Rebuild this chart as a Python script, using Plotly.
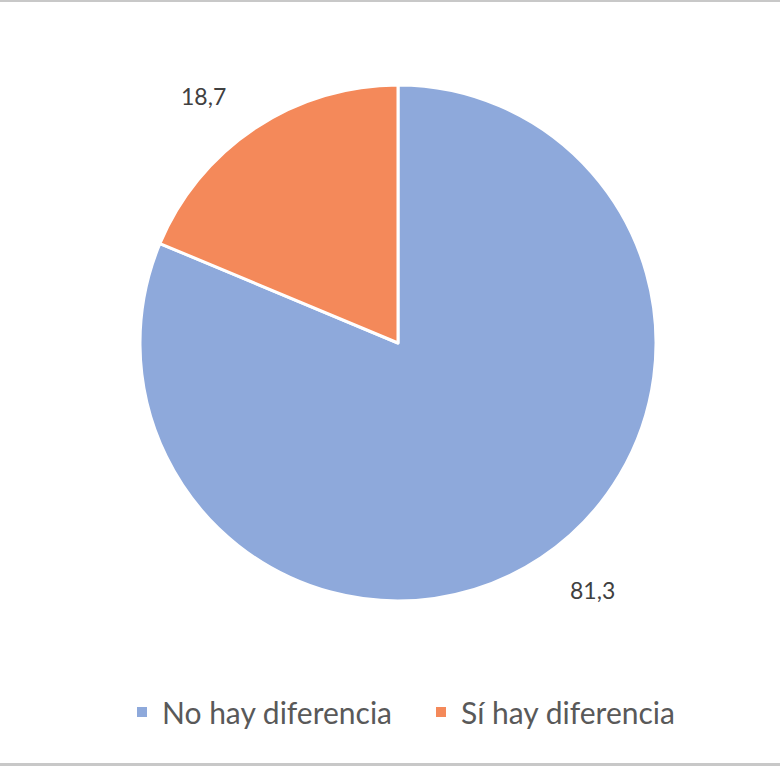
import math
import plotly.graph_objects as go

labels = ["No hay diferencia", "Sí hay diferencia"]
values = [81.3, 18.7]
colors = ["#8EA9DB", "#F4895A"]

W, H = 780, 766
cx, cy, r = 398, 343, 258
label_r = 314
label_shift = math.radians(-4.6)

fig = go.Figure(go.Pie(
    labels=labels,
    values=values,
    sort=False,
    direction="clockwise",
    rotation=0,
    marker=dict(colors=colors, line=dict(color="white", width=3)),
    textinfo="none",
    domain=dict(x=[(cx - r) / W, (cx + r) / W], y=[1 - (cy + r) / H, 1 - (cy - r) / H]),
    hoverinfo="skip",
))

# data labels placed outside each slice near its mid-angle (computed from values)
total = sum(values)
cum = 0.0
annotations = []
for v in values:
    mid = (cum + v / 2) / total * 2 * math.pi + label_shift  # clockwise from top
    cum += v
    dx, dy = math.sin(mid), -math.cos(mid)  # pixel direction (y down)
    px, py = cx + label_r * dx, cy + label_r * dy
    annotations.append(dict(
        x=px / W, y=1 - py / H, xref="paper", yref="paper",
        text=f"{v:.1f}".replace(".", ","), showarrow=False,
        xanchor="center", yanchor="middle",
        font=dict(size=23, color="#404040", family="Lato"),
    ))

fig.update_layout(
    width=W, height=H,
    margin=dict(l=0, r=0, t=0, b=0),
    paper_bgcolor="white",
    separators=",.",
    showlegend=True,
    annotations=annotations,
    legend=dict(
        orientation="h", x=122 / W, xanchor="left", y=1 - 712 / H, yanchor="middle",
        font=dict(size=30, color="#595959", family="Lato"),
        itemsizing="constant", entrywidth=254, entrywidthmode="pixels",
    ),
    shapes=[
        dict(type="line", xref="paper", yref="paper", x0=0, x1=1, y0=1, y1=1,
             line=dict(color="#c8c8c8", width=4)),
        dict(type="line", xref="paper", yref="paper", x0=0, x1=1, y0=0, y1=0,
             line=dict(color="#c8c8c8", width=6)),
    ],
)

fig.write_html("out.html", config={"displayModeBar": False},
               post_script="document.body.style.margin='0px';")
